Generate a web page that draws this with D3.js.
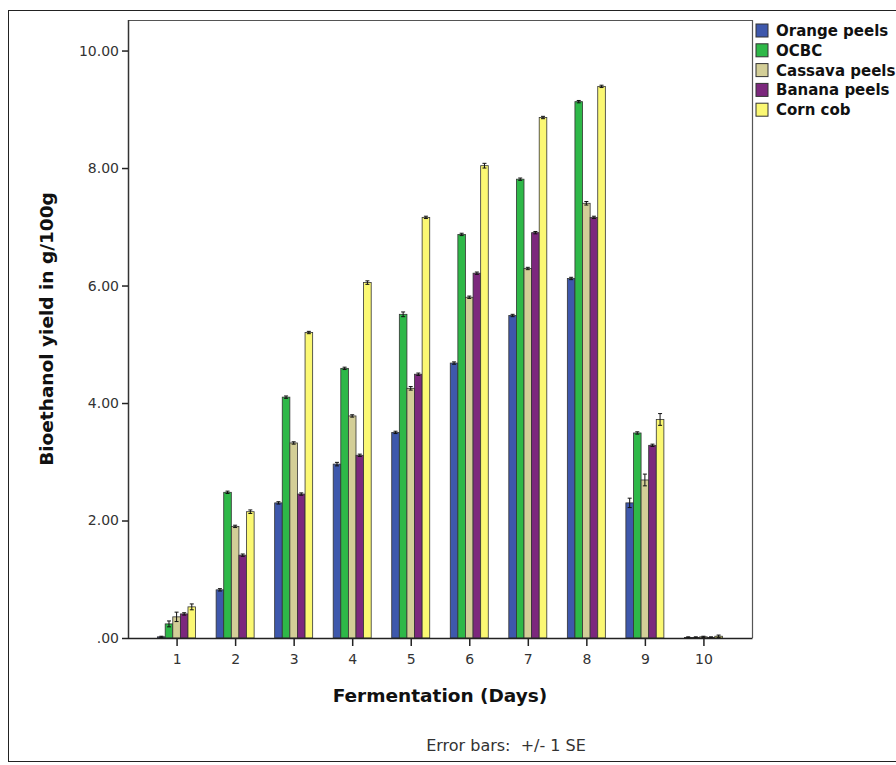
<!DOCTYPE html>
<html>
<head>
  <script src="https://d3js.org/d3.v7.min.js"></script>
  <style>
    body { margin: 0; background: #fff; }
    text { font-family: "DejaVu Sans", Verdana, sans-serif; }
  </style>
</head>
<body>
<svg id="chart" width="896" height="765"></svg>
<script>
  // data
  const days = [1, 2, 3, 4, 5, 6, 7, 8, 9, 10];
  const seriesNames = ["Orange peels", "OCBC", "Cassava peels", "Banana peels", "Corn cob"];
  const seriesColors = ["#3E58AC", "#2EB848", "#D3CE97", "#7C287D", "#FBF873"];

  const orangePeels  = [0.02, 0.82, 2.30, 2.96, 3.50, 4.68, 5.49, 6.12, 2.30, 0.01];
  const ocbc         = [0.24, 2.48, 4.10, 4.59, 5.51, 6.87, 7.81, 9.13, 3.49, 0.01];
  const cassavaPeels = [0.36, 1.90, 3.32, 3.78, 4.25, 5.80, 6.29, 7.40, 2.69, 0.02];
  const bananaPeels  = [0.41, 1.41, 2.45, 3.11, 4.49, 6.21, 6.90, 7.16, 3.28, 0.01];
  const cornCob      = [0.53, 2.15, 5.20, 6.05, 7.16, 8.04, 8.86, 9.39, 3.72, 0.03];

  // standard errors
  const orangeSE  = [0.01, 0.02, 0.02, 0.03, 0.02, 0.02, 0.02, 0.02, 0.08, 0.01];
  const ocbcSE    = [0.05, 0.02, 0.02, 0.02, 0.04, 0.02, 0.02, 0.02, 0.02, 0.01];
  const cassavaSE = [0.08, 0.02, 0.02, 0.02, 0.03, 0.02, 0.02, 0.03, 0.10, 0.01];
  const bananaSE  = [0.02, 0.02, 0.02, 0.02, 0.02, 0.02, 0.02, 0.02, 0.02, 0.01];
  const cornSE    = [0.05, 0.03, 0.02, 0.03, 0.02, 0.04, 0.02, 0.02, 0.10, 0.02];

  const yTicks = [0, 2, 4, 6, 8, 10];

  const values = [orangePeels, ocbc, cassavaPeels, bananaPeels, cornCob];
  const errors = [orangeSE, ocbcSE, cassavaSE, bananaSE, cornSE];

  const svg = d3.select("#chart");

  // outer frame
  svg.append("rect")
    .attr("x", 8.5).attr("y", 10.5)
    .attr("width", 900).attr("height", 751)
    .attr("fill", "none").attr("stroke", "#222").attr("stroke-width", 1);

  const plot = { left: 128, right: 752, top: 20, bottom: 638 };

  const x = d3.scalePoint()
    .domain(days)
    .range([plot.left, plot.right])
    .padding(0.83);

  const y = d3.scaleLinear()
    .domain([0, 10.52])
    .range([plot.bottom, plot.top]);

  const inner = d3.scaleBand()
    .domain(seriesNames)
    .range([-19, 19]);

  // plot frame (top and right)
  svg.append("path")
    .attr("d", `M${plot.left},${plot.top + 0.5}H${plot.right + 0.5}V${plot.bottom}`)
    .attr("fill", "none").attr("stroke", "#555").attr("stroke-width", 1.2);

  // bars
  const flat = [];
  seriesNames.forEach((name, si) => {
    days.forEach((d, di) => {
      flat.push({ day: d, name, si, v: values[si][di], se: errors[si][di] });
    });
  });

  svg.append("g").selectAll("rect.bar")
    .data(flat)
    .join("rect")
    .attr("class", "bar")
    .attr("x", d => x(d.day) + inner(d.name))
    .attr("y", d => y(d.v))
    .attr("width", inner.bandwidth())
    .attr("height", d => y(0) - y(d.v))
    .attr("fill", d => seriesColors[d.si])
    .attr("stroke", "#333")
    .attr("stroke-width", 0.8);

  // error bars
  const eb = svg.append("g").attr("stroke", "#111").attr("stroke-width", 1);
  flat.forEach(d => {
    const cx = x(d.day) + inner(d.name) + inner.bandwidth() / 2;
    const y1 = y(d.v + d.se), y2 = y(Math.max(0, d.v - d.se));
    eb.append("line").attr("x1", cx).attr("x2", cx).attr("y1", y1).attr("y2", y2);
    eb.append("line").attr("x1", cx - 2).attr("x2", cx + 2).attr("y1", y1).attr("y2", y1);
    eb.append("line").attr("x1", cx - 2).attr("x2", cx + 2).attr("y1", y2).attr("y2", y2);
  });

  // axes
  const yAxis = svg.append("g")
    .attr("transform", `translate(${plot.left},0)`)
    .call(d3.axisLeft(y).tickValues(yTicks).tickSize(6).tickSizeOuter(0)
      .tickFormat(d => d === 0 ? ".00" : d3.format(".2f")(d)));
  yAxis.select(".domain").attr("d", `M0.5,${plot.top}V${plot.bottom}`).attr("stroke", "#333").attr("stroke-width", 1.5);
  yAxis.selectAll(".tick line").attr("stroke", "#222").attr("stroke-width", 1.5);
  yAxis.selectAll(".tick text").attr("font-family", "DejaVu Sans").attr("font-size", 14).attr("fill", "#333").attr("x", -9);

  const xAxis = svg.append("g")
    .attr("transform", `translate(0,${plot.bottom})`)
    .call(d3.axisBottom(x).tickSize(8).tickSizeOuter(0));
  xAxis.select(".domain").attr("d", `M${plot.left},0.5H${plot.right + 0.5}`).attr("stroke", "#222").attr("stroke-width", 1.5);
  xAxis.selectAll(".tick line").attr("stroke", "#222").attr("stroke-width", 1.5);
  xAxis.selectAll(".tick text").attr("font-family", "DejaVu Sans").attr("font-size", 14).attr("fill", "#333").attr("dy", "1.1em");

  // titles
  svg.append("text")
    .attr("transform", `translate(53,${(plot.top + plot.bottom) / 2}) rotate(-90)`)
    .attr("text-anchor", "middle")
    .attr("font-size", 18.5).attr("font-weight", "bold").attr("fill", "#111")
    .text("Bioethanol yield in g/100g");

  svg.append("text")
    .attr("x", (plot.left + plot.right) / 2).attr("y", 702)
    .attr("text-anchor", "middle")
    .attr("font-size", 18.5).attr("font-weight", "bold").attr("fill", "#111")
    .text("Fermentation (Days)");

  svg.append("text")
    .attr("x", 506).attr("y", 751)
    .attr("text-anchor", "middle")
    .attr("font-size", 16).attr("fill", "#333")
    .style("white-space", "pre")
    .text("Error bars:  +/- 1 SE");

  // legend
  const legend = svg.append("g").attr("transform", "translate(756,24)");
  const items = legend.selectAll("g")
    .data(seriesNames)
    .join("g")
    .attr("transform", (d, i) => `translate(0,${i * 19.8})`);
  items.append("rect")
    .attr("width", 12).attr("height", 13)
    .attr("fill", (d, i) => seriesColors[i])
    .attr("stroke", "#333").attr("stroke-width", 1);
  items.append("text")
    .attr("x", 20).attr("y", 12)
    .attr("font-size", 15).attr("font-weight", "bold").attr("fill", "#111")
    .text(d => d);
</script>
</body>
</html>
